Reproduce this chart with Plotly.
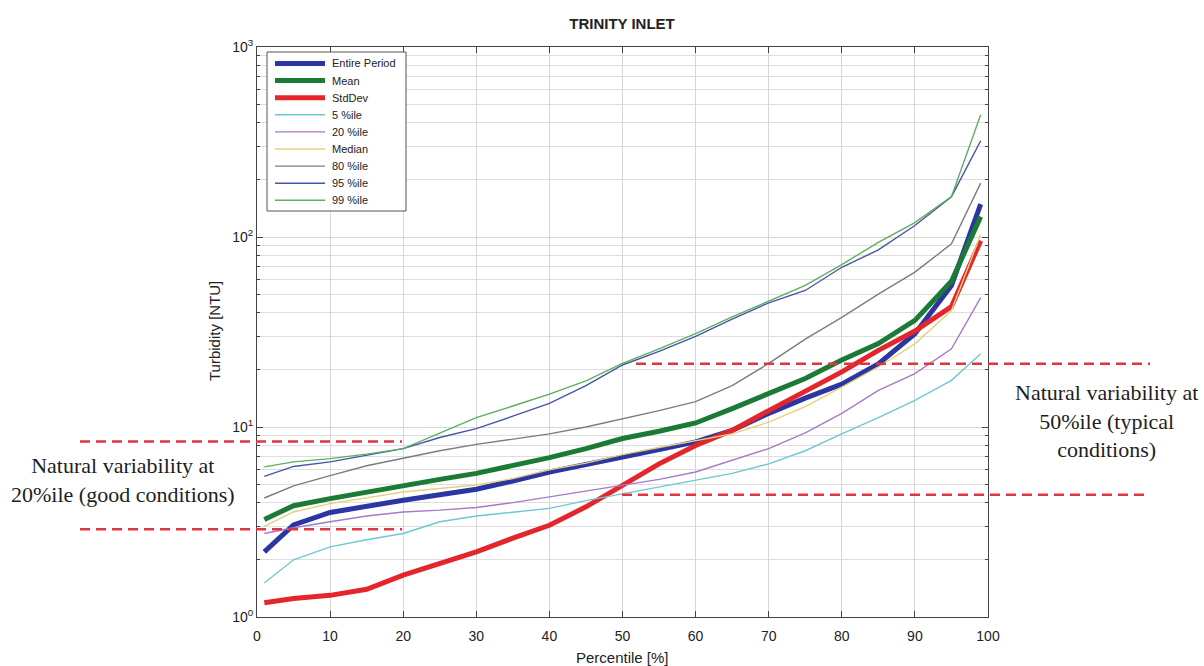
import math
import plotly.graph_objects as go

# Exceedance percentiles at which each turbidity statistic is evaluated
percentile = [1, 5, 10, 15, 20, 25, 30, 35, 40, 45, 50, 55, 60, 65, 70, 75, 80, 85, 90, 95, 99]

# Turbidity [NTU] for each statistic
entire_period = [2.2, 3.05, 3.55, 3.85, 4.12, 4.4, 4.7, 5.2, 5.8, 6.35, 7.0, 7.6, 8.35, 9.6, 11.8, 14.2, 16.8, 21.5, 31.0, 55.6, 149.0]
mean = [3.26, 3.85, 4.2, 4.55, 4.94, 5.3, 5.7, 6.25, 6.9, 7.7, 8.7, 9.5, 10.5, 12.5, 15.0, 18.0, 22.5, 27.5, 36.4, 58.5, 128.0]
std_dev = [1.19, 1.25, 1.30, 1.40, 1.66, 1.9, 2.2, 2.6, 3.04, 3.8, 4.95, 6.4, 8.0, 9.6, 12.2, 15.5, 19.5, 25.3, 32.0, 43.0, 95.7]
pct05 = [1.51, 2.0, 2.34, 2.55, 2.75, 3.17, 3.4, 3.55, 3.73, 4.1, 4.45, 4.8, 5.25, 5.7, 6.4, 7.5, 9.2, 11.2, 13.8, 17.6, 24.3]
pct20 = [2.75, 2.95, 3.17, 3.4, 3.57, 3.65, 3.77, 4.0, 4.29, 4.6, 4.9, 5.3, 5.8, 6.68, 7.7, 9.3, 11.8, 15.6, 19.1, 25.8, 48.0]
median = [3.0, 3.57, 3.95, 4.25, 4.55, 4.75, 4.95, 5.35, 5.95, 6.45, 7.15, 7.8, 8.5, 9.2, 10.6, 12.8, 16.2, 20.7, 27.4, 41.0, 103.0]
pct80 = [4.23, 4.9, 5.55, 6.25, 6.85, 7.5, 8.1, 8.6, 9.2, 10.0, 11.0, 12.2, 13.6, 16.5, 21.6, 29.0, 37.8, 50.0, 65.3, 92.0, 192.0]
pct95 = [5.5, 6.2, 6.55, 7.1, 7.7, 8.8, 9.8, 11.4, 13.3, 16.5, 21.2, 25.0, 30.0, 37.0, 45.0, 52.3, 69.3, 85.5, 115.0, 163.0, 321.0]
pct99 = [6.17, 6.55, 6.82, 7.2, 7.7, 9.3, 11.2, 12.9, 14.9, 17.5, 21.6, 25.8, 31.0, 38.0, 46.0, 55.6, 71.6, 93.8, 119.0, 163.0, 440.0]

series_names = ["Entire Period", "Mean", "StdDev", "5 %ile", "20 %ile", "Median", "80 %ile", "95 %ile", "99 %ile"]
series_values = [entire_period, mean, std_dev, pct05, pct20, median, pct80, pct95, pct99]
series_colors = ["#2b36a3", "#1b7a35", "#e4262c", "#6ccacd", "#a67ac8", "#e3d27c", "#7c7c7c", "#4854a8", "#5caf5e"]
series_widths = [5, 5, 5, 1.4, 1.4, 1.4, 1.4, 1.4, 1.4]

# Natural-variability bands (NTU)
band20_low, band20_high = 2.9, 8.4
band50_low, band50_high = 4.4, 21.5

y_tick_vals = [1, 10, 100, 1000]
y_tick_text = ["10<sup>0</sup>", "10<sup>1</sup>", "10<sup>2</sup>", "10<sup>3</sup>"]
x_tick_vals = [0, 10, 20, 30, 40, 50, 60, 70, 80, 90, 100]

# Figure geometry (pixels) used to place paper-referenced items
W, H = 1204, 666
ML, MR, MT, MB = 257, 216, 47, 49
PW, PH = W - ML - MR, H - MT - MB


def px(xp):
    return (xp - ML) / PW


def py(yp):
    return (H - MB - yp) / PH


sans = "Arial, Liberation Sans, Helvetica, sans-serif"

fig = go.Figure()
for name, vals, col, w in zip(series_names, series_values, series_colors, series_widths):
    fig.add_trace(go.Scatter(
        x=percentile, y=vals, name=name, mode="lines",
        line=dict(color=col, width=w), showlegend=False,
    ))

# Dashed band limits, extending beyond the axes towards the side labels
dash_style = dict(color="#e23440", width=2.5, dash="10px,6px")
for yv in (band20_low, band20_high):
    fig.add_shape(type="line", xref="paper", yref="y", x0=px(80), x1=px(402),
                  y0=yv, y1=yv, line=dash_style)
fig.add_shape(type="line", xref="paper", yref="y", x0=px(622), x1=px(1150),
              y0=band50_low, y1=band50_low, line=dash_style)
fig.add_shape(type="line", xref="paper", yref="y", x0=px(636), x1=px(1150),
              y0=band50_high, y1=band50_high, line=dash_style)

# Boxed key in the upper-left corner of the axes
key_left, key_right, key_top, key_bottom = 267, 406, 52, 211
fig.add_shape(type="rect", xref="paper", yref="paper",
              x0=px(key_left), x1=px(key_right), y0=py(key_bottom), y1=py(key_top),
              fillcolor="white", line=dict(color="#555555", width=1))
row_h = 17.1
for i, (name, col, w) in enumerate(zip(series_names, series_colors, series_widths)):
    yc = 63.5 + i * row_h
    fig.add_shape(type="line", xref="paper", yref="paper",
                  x0=px(275), x1=px(325), y0=py(yc), y1=py(yc),
                  line=dict(color=col, width=w))
    fig.add_annotation(xref="paper", yref="paper", x=px(330), y=py(yc),
                       xanchor="left", yanchor="middle", text=name, showarrow=False,
                       font=dict(family=sans, size=11, color="#222222"))

serif = dict(family="Liberation Serif, Times New Roman, serif", size=22, color="#1e1e1e")
fig.add_annotation(xref="paper", yref="paper", x=px(123), y=py(480),
                   xanchor="center", yanchor="middle",
                   text="Natural variability at<br>20%ile (good conditions)",
                   showarrow=False, font=serif, align="center")
fig.add_annotation(xref="paper", yref="paper", x=px(1106), y=py(421),
                   xanchor="center", yanchor="middle",
                   text="Natural variability at<br>50%ile (typical<br>conditions)",
                   showarrow=False, font=serif, align="center")

fig.add_annotation(xref="paper", yref="paper", x=px(214), y=py(331),
                   xanchor="center", yanchor="middle",
                   text="Turbidity [NTU]", textangle=-90, showarrow=False,
                   font=dict(family=sans, size=15, color="#222222"))
fig.add_annotation(xref="paper", yref="paper", x=px(622), y=py(657),
                   xanchor="center", yanchor="middle",
                   text="Percentile [%]", showarrow=False,
                   font=dict(family=sans, size=15, color="#222222"))

axis_common = dict(
    showline=True, linecolor="#444444", linewidth=1, mirror="ticks",
    ticks="inside", tickcolor="#444444", ticklen=6,
    showgrid=True, gridcolor="#d6d6d6", gridwidth=1, zeroline=False,
    tickfont=dict(family=sans, size=14, color="#222222"),
)

fig.update_layout(
    width=W, height=H,
    margin=dict(l=ML, r=MR, t=MT, b=MB),
    paper_bgcolor="white", plot_bgcolor="white",
    title=dict(text="<b>TRINITY INLET</b>", xref="paper", x=px(622), xanchor="center",
               yref="container", y=1 - 24 / H, yanchor="middle",
               font=dict(family=sans, size=15, color="#222222")),
    xaxis=dict(range=[0, 100], tickvals=x_tick_vals, ticklabelstandoff=6, **axis_common),
    yaxis=dict(type="log", range=[0, 3], tickvals=y_tick_vals, ticktext=y_tick_text,
               minor=dict(dtick="D1", ticks="inside", ticklen=3, tickcolor="#444444",
                          showgrid=True, gridcolor="#dedede", gridwidth=1),
               **axis_common),
    showlegend=False,
)

fig.write_html("out.html")
